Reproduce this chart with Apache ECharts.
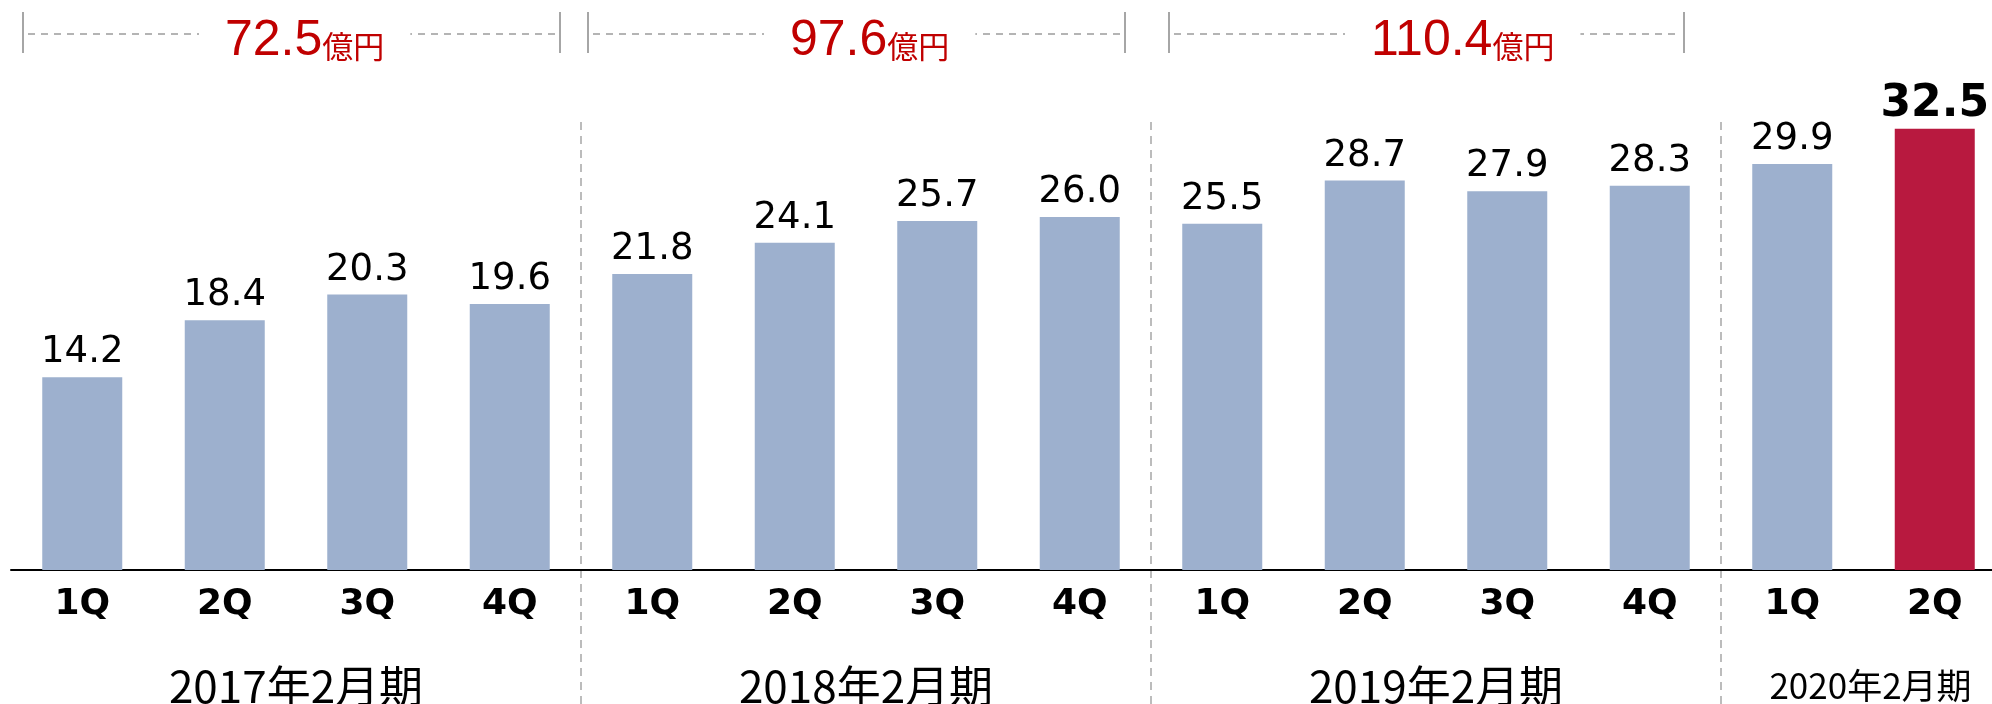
<!DOCTYPE html>
<html><head><meta charset="utf-8">
<script src="https://cdn.jsdelivr.net/npm/echarts@6/dist/echarts.min.js"></script>
<style>html,body{margin:0;padding:0;background:#fff}#c{width:1992px;height:704px}</style>
</head><body><div id="c"></div>
<script>
// ---- data ----
const quarters = ['1Q','2Q','3Q','4Q','1Q','2Q','3Q','4Q','1Q','2Q','3Q','4Q','1Q','2Q'];
const values = [14.2,18.4,20.3,19.6,21.8,24.1,25.7,26.0,25.5,28.7,27.9,28.3,29.9,32.5];
const fiscalYears = ['2017年2月期','2018年2月期','2019年2月期','2020年2月期'];
const groupSizes = [4,4,4,2];
const yearTotals = ['72.5','97.6','110.4'];
const totalUnit = '億円';
const highlightIndex = 13;

// ---- styles / layout ----
const BLUE = '#9DB0CE', RED = '#B8193F', TOTAL_RED = '#C00000', GREY = '#A6A6A6';
const bracketInsetL = [12, 7, 18];
const bracketInsetR = [21, 26, 37];
const yearFont = [44, 44, 44, 35];
const yearShift = [0, 0, 0, 7];

const chart = echarts.init(document.getElementById('c'), null, {renderer: 'canvas'});

chart.setOption({
  animation: false,
  backgroundColor: '#fff',
  grid: {left: 11, width: 1995, top: 27, bottom: 134, containLabel: false, outerBoundsMode: 'none'},
  xAxis: {
    type: 'category', data: quarters, boundaryGap: true,
    axisLine: {show: true, lineStyle: {color: '#000', width: 2}},
    axisTick: {show: false},
    axisLabel: {fontFamily: 'DejaVu Sans', fontWeight: 'bold', fontSize: 36, color: '#000', margin: 17, interval: 0}
  },
  yAxis: {type: 'value', min: 0, max: 40, show: false, splitLine: {show: false}},
  series: [{
    type: 'bar', barWidth: 80,
    itemStyle: {color: BLUE},
    label: {
      show: true, position: 'top', distance: 6,
      fontFamily: 'DejaVu Sans', fontSize: 37, color: '#000',
      formatter: p => Number(p.value).toFixed(1)
    },
    data: values.map((v, i) => i === highlightIndex ? {
      value: v, itemStyle: {color: RED},
      label: {fontWeight: 'bold', fontSize: 44, distance: 2}
    } : v)
  }]
});

// ---- annotations positioned through the axis ----
const px = i => chart.convertToPixel({xAxisIndex: 0}, i);
const bw = px(1) - px(0);
const graphics = [];
let start = 0;
const groups = groupSizes.map(n => { const g = {start, end: start + n - 1}; start += n; return g; });

groups.forEach((g, gi) => {
  const lb = px(g.start) - bw / 2, rb = px(g.end) + bw / 2;
  if (gi < groups.length - 1) {
    graphics.push({type: 'line', silent: true,
      shape: {x1: rb, y1: 122, x2: rb, y2: 704},
      style: {stroke: GREY, lineWidth: 1.5, lineDash: [8, 6]}});
  }
  graphics.push({type: 'text', silent: true,
    x: (px(g.start) + px(g.end)) / 2 + yearShift[gi], y: 686,
    style: {text: fiscalYears[gi], fill: '#000', font: yearFont[gi] + 'px "Noto Sans CJK JP"',
      align: 'center', verticalAlign: 'middle'}});
  if (gi < yearTotals.length) {
    const L = lb + bracketInsetL[gi], R = rb - bracketInsetR[gi];
    graphics.push({type: 'line', silent: true, shape: {x1: L, y1: 12, x2: L, y2: 53},
      style: {stroke: GREY, lineWidth: 2}});
    graphics.push({type: 'line', silent: true, shape: {x1: R, y1: 12, x2: R, y2: 53},
      style: {stroke: GREY, lineWidth: 2}});
    graphics.push({type: 'line', silent: true, shape: {x1: L + 5, y1: 34, x2: R - 3, y2: 34},
      style: {stroke: '#B4B4B4', lineWidth: 1.8, lineDash: [7, 6]}});
    graphics.push({type: 'text', silent: true, z: 10,
      x: L + 202 - 26, y: 41,
      style: {
        text: '{a|' + yearTotals[gi] + '}{b|' + totalUnit + '}',
        align: 'left', verticalAlign: 'middle',
        backgroundColor: '#fff', padding: [0, 26, 0, 26],
        rich: {
          a: {fontFamily: 'Liberation Sans', fontSize: 50, fill: TOTAL_RED, verticalAlign: 'bottom'},
          b: {fontFamily: 'Noto Sans CJK JP', fontSize: 31, fill: TOTAL_RED, verticalAlign: 'bottom', padding: [0, 0, 4, 0]}
        }
      }});
  }
});

chart.setOption({graphic: graphics});
</script>
</body></html>
